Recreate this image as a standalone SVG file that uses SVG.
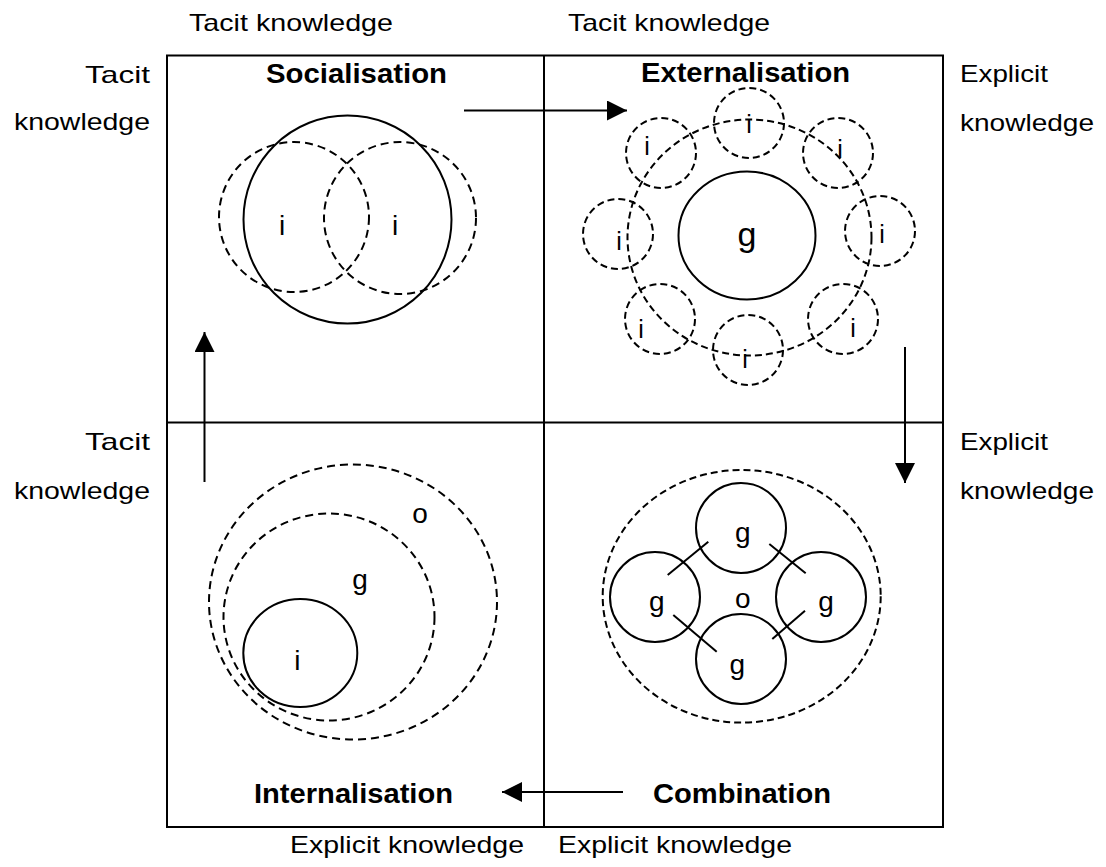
<svg xmlns="http://www.w3.org/2000/svg" width="1106" height="867" viewBox="0 0 1106 867">
<style>
  .frame { fill: none; stroke: #000; stroke-width: 2; }
  .solid { fill: none; stroke: #000; stroke-width: 2; }
  .dash { fill: none; stroke: #000; stroke-width: 2; stroke-dasharray: 8 5; }
  .dashs { fill: none; stroke: #000; stroke-width: 2; stroke-dasharray: 7 4; }
  .lbl { font-family: "Liberation Sans", Arial, sans-serif; font-size: 24px; fill: #000; }
  .ttl { font-family: "Liberation Sans", Arial, sans-serif; font-size: 28px; font-weight: bold; fill: #000; }
  .let { font-family: "Liberation Sans", Arial, sans-serif; font-size: 28px; fill: #000; text-anchor: middle; }
  .arr { fill: none; stroke: #000; stroke-width: 2; }
</style>
<defs>
  <marker id="ah" viewBox="0 0 10 10" refX="10" refY="5" markerWidth="10" markerHeight="10" markerUnits="userSpaceOnUse" orient="auto">
    <path d="M0,0 L10,5 L0,10 Z" fill="#000"/>
  </marker>
  <marker id="ahb" viewBox="0 0 20 20" refX="20" refY="10" markerWidth="20" markerHeight="20" markerUnits="userSpaceOnUse" orient="auto">
    <path d="M0,0 L20,10 L0,20 Z" fill="#000"/>
  </marker>
</defs>
<rect width="1106" height="867" fill="#fff"/>

<g id="frame">
  <rect class="frame" x="167" y="55.5" width="776" height="771.5"/>
  <line class="frame" x1="544" y1="55.5" x2="544" y2="827"/>
  <line class="frame" x1="167" y1="422.5" x2="943" y2="422.5"/>
</g>

<g id="axis-labels">
  <text class="lbl" x="189" y="31" textLength="204" lengthAdjust="spacingAndGlyphs">Tacit knowledge</text>
  <text class="lbl" x="568" y="31" textLength="202" lengthAdjust="spacingAndGlyphs">Tacit knowledge</text>
  <text class="lbl" x="150" y="83" text-anchor="end" textLength="65" lengthAdjust="spacingAndGlyphs">Tacit</text>
  <text class="lbl" x="150" y="130" text-anchor="end" textLength="136" lengthAdjust="spacingAndGlyphs">knowledge</text>
  <text class="lbl" x="150" y="450" text-anchor="end" textLength="65" lengthAdjust="spacingAndGlyphs">Tacit</text>
  <text class="lbl" x="150" y="499" text-anchor="end" textLength="136" lengthAdjust="spacingAndGlyphs">knowledge</text>
  <text class="lbl" x="960" y="82" textLength="88" lengthAdjust="spacingAndGlyphs">Explicit</text>
  <text class="lbl" x="960" y="131" textLength="134" lengthAdjust="spacingAndGlyphs">knowledge</text>
  <text class="lbl" x="960" y="450" textLength="88" lengthAdjust="spacingAndGlyphs">Explicit</text>
  <text class="lbl" x="960" y="499" textLength="134" lengthAdjust="spacingAndGlyphs">knowledge</text>
  <text class="lbl" x="290" y="853" textLength="234" lengthAdjust="spacingAndGlyphs">Explicit knowledge</text>
  <text class="lbl" x="558" y="853" textLength="234" lengthAdjust="spacingAndGlyphs">Explicit knowledge</text>
</g>

<g id="socialisation">
  <text class="ttl" x="266" y="83" textLength="181" lengthAdjust="spacingAndGlyphs">Socialisation</text>
  <circle class="solid" cx="347.5" cy="219.5" r="104"/>
  <circle class="dash" cx="294" cy="217" r="75"/>
  <circle class="dash" cx="400" cy="218" r="76"/>
  <text class="let" x="282" y="235">i</text>
  <text class="let" x="395" y="235">i</text>
</g>

<g id="externalisation">
  <text class="ttl" x="641" y="82" textLength="209" lengthAdjust="spacingAndGlyphs">Externalisation</text>
  <ellipse class="dashs" cx="749.5" cy="237.5" rx="122" ry="118"/>
  <ellipse class="solid" cx="747" cy="235.5" rx="68.5" ry="64"/>
  <circle class="dashs" cx="749" cy="123" r="35"/>
  <circle class="dashs" cx="661" cy="153" r="35"/>
  <circle class="dashs" cx="838" cy="153" r="35"/>
  <circle class="dashs" cx="618" cy="234" r="35"/>
  <circle class="dashs" cx="880" cy="231" r="35"/>
  <circle class="dashs" cx="660" cy="319" r="35"/>
  <circle class="dashs" cx="843" cy="319" r="35"/>
  <circle class="dashs" cx="748" cy="350" r="35"/>
  <g style="font-size:25px">
    <text class="let" x="749" y="133" style="font-size:25px">i</text>
    <text class="let" x="647" y="155" style="font-size:25px">i</text>
    <text class="let" x="840" y="158" style="font-size:25px">i</text>
    <text class="let" x="619" y="250" style="font-size:25px">i</text>
    <text class="let" x="882" y="243" style="font-size:25px">i</text>
    <text class="let" x="641" y="338" style="font-size:25px">i</text>
    <text class="let" x="853" y="337" style="font-size:25px">i</text>
    <text class="let" x="745" y="368" style="font-size:25px">i</text>
  </g>
  <text class="let" x="747" y="246" style="font-size:34px">g</text>
</g>

<g id="combination">
  <text class="ttl" x="653" y="803" textLength="178" lengthAdjust="spacingAndGlyphs">Combination</text>
  <ellipse class="dashs" cx="741.7" cy="596.3" rx="139" ry="126.3"/>
  <circle class="solid" cx="741" cy="528" r="45"/>
  <circle class="solid" cx="655" cy="597" r="45"/>
  <circle class="solid" cx="821" cy="597" r="45"/>
  <circle class="solid" cx="741" cy="659" r="45"/>
  <line class="solid" x1="667.7" y1="575" x2="708.3" y2="541.7"/>
  <line class="solid" x1="769.3" y1="544" x2="805.7" y2="573.3"/>
  <line class="solid" x1="673.3" y1="615" x2="716.7" y2="651.7"/>
  <line class="solid" x1="805" y1="610.7" x2="772.3" y2="639"/>
  <text class="let" x="742.7" y="542">g</text>
  <text class="let" x="656.7" y="611">g</text>
  <text class="let" x="826" y="611">g</text>
  <text class="let" x="737.3" y="674">g</text>
  <text class="let" x="742.7" y="608">o</text>
</g>

<g id="internalisation">
  <text class="ttl" x="254" y="803" textLength="199" lengthAdjust="spacingAndGlyphs">Internalisation</text>
  <ellipse class="dash" cx="353" cy="602" rx="144" ry="137.5"/>
  <ellipse class="dash" cx="329" cy="617" rx="105.5" ry="103.5"/>
  <ellipse class="solid" cx="300.3" cy="653" rx="57" ry="54"/>
  <text class="let" x="420" y="523">o</text>
  <text class="let" x="360" y="589">g</text>
  <text class="let" x="297.3" y="670">i</text>
</g>

<g id="connectors">
  <line class="arr" x1="464" y1="110.5" x2="627" y2="110.5" marker-end="url(#ahb)"/>
  <line class="arr" x1="905" y1="347" x2="905" y2="483" marker-end="url(#ahb)"/>
  <line class="arr" x1="623" y1="792" x2="502" y2="792" marker-end="url(#ahb)"/>
  <line class="arr" x1="204.5" y1="482" x2="204.5" y2="332" marker-end="url(#ahb)"/>
</g>
</svg>
